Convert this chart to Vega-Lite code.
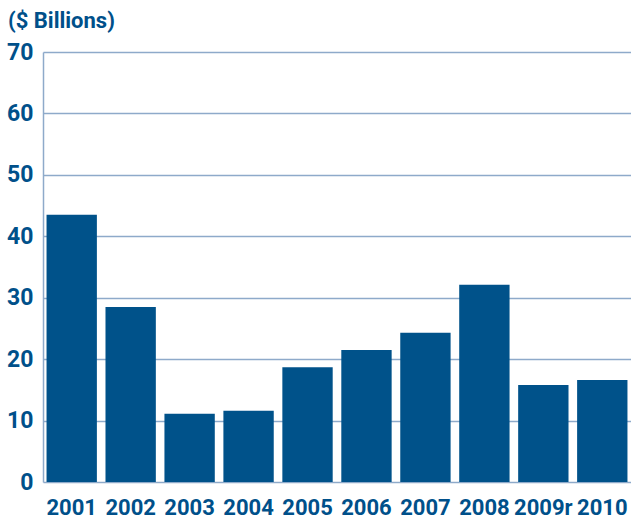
{
  "$schema": "https://vega.github.io/schema/vega-lite/v6.json",
  "width": 588,
  "height": 430,
  "autosize": "none",
  "padding": {"left": 43, "top": 52, "right": 0, "bottom": 39},
  "background": "white",
  "title": {
    "text": "($ Billions)",
    "anchor": "start",
    "frame": "group",
    "dx": -35,
    "offset": 8,
    "font": "Roboto",
    "fontSize": 22,
    "fontWeight": "bold",
    "color": "#00508a"
  },
  "data": {
    "values": [
      {"year": "2001", "value": 43.5},
      {"year": "2002", "value": 28.5},
      {"year": "2003", "value": 11.1},
      {"year": "2004", "value": 11.6},
      {"year": "2005", "value": 18.7},
      {"year": "2006", "value": 21.5},
      {"year": "2007", "value": 24.3},
      {"year": "2008", "value": 32.1},
      {"year": "2009r", "value": 15.8},
      {"year": "2010", "value": 16.6}
    ]
  },
  "mark": {"type": "bar", "color": "#00528a"},
  "encoding": {
    "x": {
      "field": "year",
      "type": "nominal",
      "sort": null,
      "scale": {"paddingInner": 0.146, "paddingOuter": 0.06},
      "axis": {
        "title": null,
        "labelAngle": 0,
        "labelFont": "Roboto",
        "labelFontSize": 22,
        "labelFontWeight": "bold",
        "labelColor": "#00508a",
        "labelPadding": 15,
        "ticks": false,
        "domain": false
      }
    },
    "y": {
      "field": "value",
      "type": "quantitative",
      "scale": {"domain": [0, 70]},
      "axis": {
        "title": null,
        "values": [0, 10, 20, 30, 40, 50, 60, 70],
        "labelFont": "Roboto",
        "labelFontSize": 23,
        "labelFontWeight": "bold",
        "labelColor": "#00508a",
        "labelPadding": 10,
        "ticks": false,
        "domain": true,
        "domainColor": "#8eaaca",
        "domainWidth": 1.5,
        "grid": true,
        "gridColor": "#8eaaca",
        "gridWidth": 1.5,
        "gridOpacity": 1
      }
    }
  },
  "config": {"view": {"stroke": null}}
}
